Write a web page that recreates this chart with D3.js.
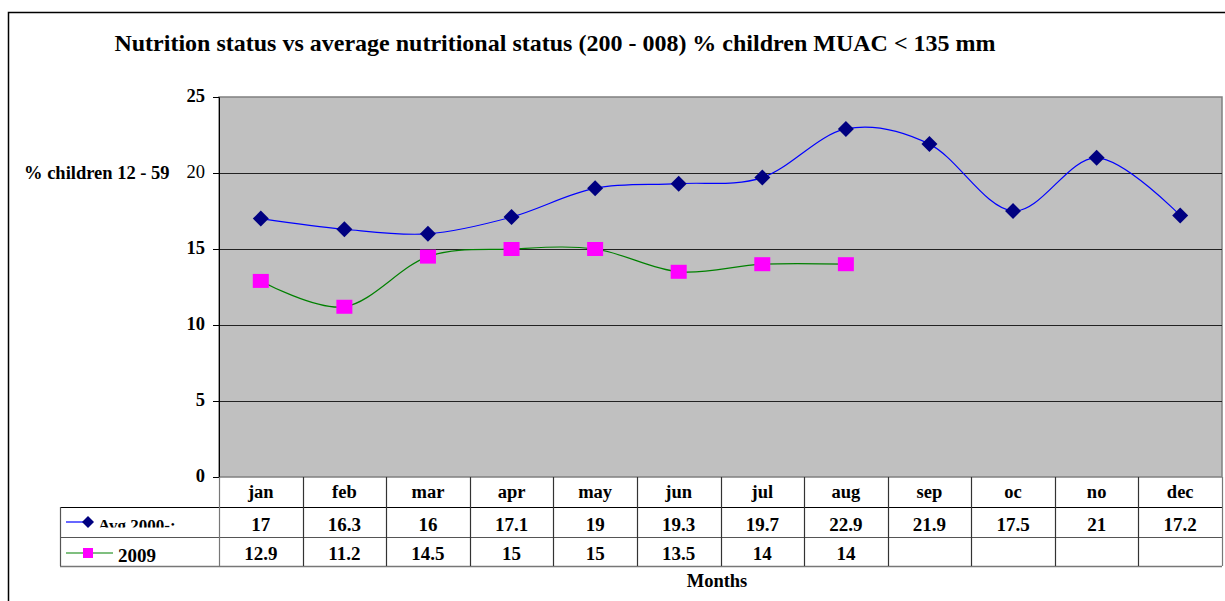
<!DOCTYPE html>
<html>
<head>
<meta charset="utf-8">
<script src="https://cdn.jsdelivr.net/npm/d3@7"></script>
<style>
  html, body { margin: 0; padding: 0; background: #fff; }
  svg { display: block; font-family: "Liberation Serif", "Times New Roman", serif; }
  svg text { font-family: "Liberation Serif", "Times New Roman", serif; }
</style>
</head>
<body>
<svg id="chart" width="1225" height="601"></svg>
<script>
const months = ["jan","feb","mar","apr","may","jun","jul","aug","sep","oc","no","dec"];
const avgValues = [17, 16.3, 16, 17.1, 19, 19.3, 19.7, 22.9, 21.9, 17.5, 21, 17.2];
const values2009 = [12.9, 11.2, 14.5, 15, 15, 13.5, 14, 14];
const yTicks = [0, 5, 10, 15, 20, 25];
const seriesNames = ["Avg 2000-:", "2009"];

const svg = d3.select("#chart");
const L = 219, R = 1222, T = 97, B = 477;
const FS = 18.5;

// outer frame
svg.append("rect").attr("x", 8.5).attr("y", 12.5).attr("width", 1300).attr("height", 700)
  .attr("fill", "none").attr("stroke", "#000").attr("stroke-width", 1.5);

// title
svg.append("text").attr("x", 555).attr("y", 51).attr("text-anchor", "middle")
  .attr("font-size", 24).attr("font-weight", "bold")
  .text("Nutrition status vs average nutritional status (200 - 008) % children MUAC < 135 mm");

const x = d3.scaleBand().domain(months).range([L, R]).padding(0);
const y = d3.scaleLinear().domain([0, 25]).range([B, T]);

// plot background
svg.append("rect").attr("x", L).attr("y", T).attr("width", R - L).attr("height", B - T)
  .attr("fill", "#c0c0c0").attr("stroke", "#808080").attr("stroke-width", 1.5);

// gridlines
svg.append("g").selectAll("line").data(yTicks.filter(d => d > 0 && d < 25)).join("line")
  .attr("x1", L).attr("x2", R).attr("y1", d => Math.round(y(d)) + 0.5).attr("y2", d => Math.round(y(d)) + 0.5)
  .attr("stroke", "#222").attr("stroke-width", 1.2);

// y axis
const yAxis = d3.axisLeft(y).tickValues(yTicks).tickSize(6).tickPadding(8);
const ga = svg.append("g").attr("transform", `translate(${L},0)`).call(yAxis)
  .attr("font-family", "Liberation Serif, serif");
ga.select(".domain").attr("stroke", "#000");
ga.selectAll(".tick line").attr("stroke", "#000");
ga.selectAll(".tick text").attr("font-size", FS)
  .attr("fill", "#000").attr("font-weight", d => d === 20 ? "normal" : "bold").attr("dy", "0.25em");

// y title
svg.append("text").attr("x", 24).attr("y", 179).attr("font-size", FS).attr("font-weight", "bold")
  .text("% children 12 - 59");

// lines
const cx = d => x(d) + x.bandwidth() / 2;
const line = d3.line().x((d, i) => cx(months[i])).y(d => y(d)).curve(d3.curveCatmullRom.alpha(0));
svg.append("path").datum(avgValues).attr("d", line).attr("fill", "none").attr("stroke", "#0000ff").attr("stroke-width", 1.2);
svg.append("path").datum(values2009).attr("d", line).attr("fill", "none").attr("stroke", "#008000").attr("stroke-width", 1.2);

// markers
const diamond = (s) => `M0,${-s}L${s},0L0,${s}L${-s},0Z`;
svg.append("g").selectAll("path").data(avgValues).join("path")
  .attr("d", diamond(8)).attr("transform", (d, i) => `translate(${cx(months[i])},${y(d)})`)
  .attr("fill", "#000080");
svg.append("g").selectAll("rect").data(values2009).join("rect")
  .attr("x", (d, i) => cx(months[i]) - 8).attr("y", d => y(d) - 7)
  .attr("width", 16).attr("height", 14).attr("fill", "#ff00ff");

// data table
const rowBot = 566;
const tbl = svg.append("g");
const lineColor = "#555";
tbl.append("line").attr("x1", 60).attr("x2", R).attr("y1", 507.5).attr("y2", 507.5).attr("stroke", "#000").attr("stroke-width", 1.2);
tbl.append("line").attr("x1", 60).attr("x2", R).attr("y1", 537.5).attr("y2", 537.5).attr("stroke", lineColor).attr("stroke-width", 1.2);
tbl.append("line").attr("x1", 60).attr("x2", R).attr("y1", rowBot + 0.5).attr("y2", rowBot + 0.5).attr("stroke", "#777").attr("stroke-width", 1.5);
tbl.append("line").attr("x1", 60.5).attr("x2", 60.5).attr("y1", 507).attr("y2", rowBot).attr("stroke", lineColor).attr("stroke-width", 1.2);
const bounds = months.map(m => x(m)).concat([R]);
tbl.selectAll("line.v").data(bounds).join("line").attr("class", "v")
  .attr("x1", d => Math.round(d) + 0.5).attr("x2", d => Math.round(d) + 0.5)
  .attr("y1", B).attr("y2", rowBot).attr("stroke", (d, i) => (i === 0 || i === bounds.length - 1) ? "#777" : "#333").attr("stroke-width", 1.2);

tbl.selectAll("text.m").data(months).join("text").attr("class", "m")
  .attr("x", d => cx(d)).attr("y", 498).attr("text-anchor", "middle")
  .attr("font-size", FS).attr("font-weight", "bold").text(d => d);
tbl.selectAll("text.a").data(avgValues).join("text").attr("class", "a")
  .attr("x", (d, i) => cx(months[i])).attr("y", 531).attr("text-anchor", "middle")
  .attr("font-size", 19).attr("font-weight", "bold").text(d => d);
tbl.selectAll("text.b").data(values2009).join("text").attr("class", "b")
  .attr("x", (d, i) => cx(months[i])).attr("y", 560).attr("text-anchor", "middle")
  .attr("font-size", 19).attr("font-weight", "bold").text(d => d);

// legend keys
svg.append("defs").append("clipPath").attr("id", "clipLeg").append("rect")
  .attr("x", 60).attr("y", 508).attr("width", 159).attr("height", 19.5);
tbl.append("line").attr("x1", 66).attr("x2", 88).attr("y1", 522).attr("y2", 522).attr("stroke", "#0000ff").attr("stroke-width", 1.2);
tbl.append("path").attr("d", diamond(6)).attr("transform", "translate(88,522)").attr("fill", "#000080");
tbl.append("text").attr("x", 98).attr("y", 531).attr("font-size", 17).attr("font-weight", "bold")
  .attr("clip-path", "url(#clipLeg)").text(seriesNames[0]);
tbl.append("line").attr("x1", 66).attr("x2", 113).attr("y1", 553).attr("y2", 553).attr("stroke", "#008000").attr("stroke-width", 1.2);
tbl.append("rect").attr("x", 83).attr("y", 548).attr("width", 10).attr("height", 10).attr("fill", "#ff00ff");
tbl.append("text").attr("x", 118).attr("y", 562).attr("font-size", 19).attr("font-weight", "bold").text(seriesNames[1]);

// x title
svg.append("text").attr("x", 717).attr("y", 587).attr("text-anchor", "middle")
  .attr("font-size", FS).attr("font-weight", "bold").text("Months");
</script>
</body>
</html>
